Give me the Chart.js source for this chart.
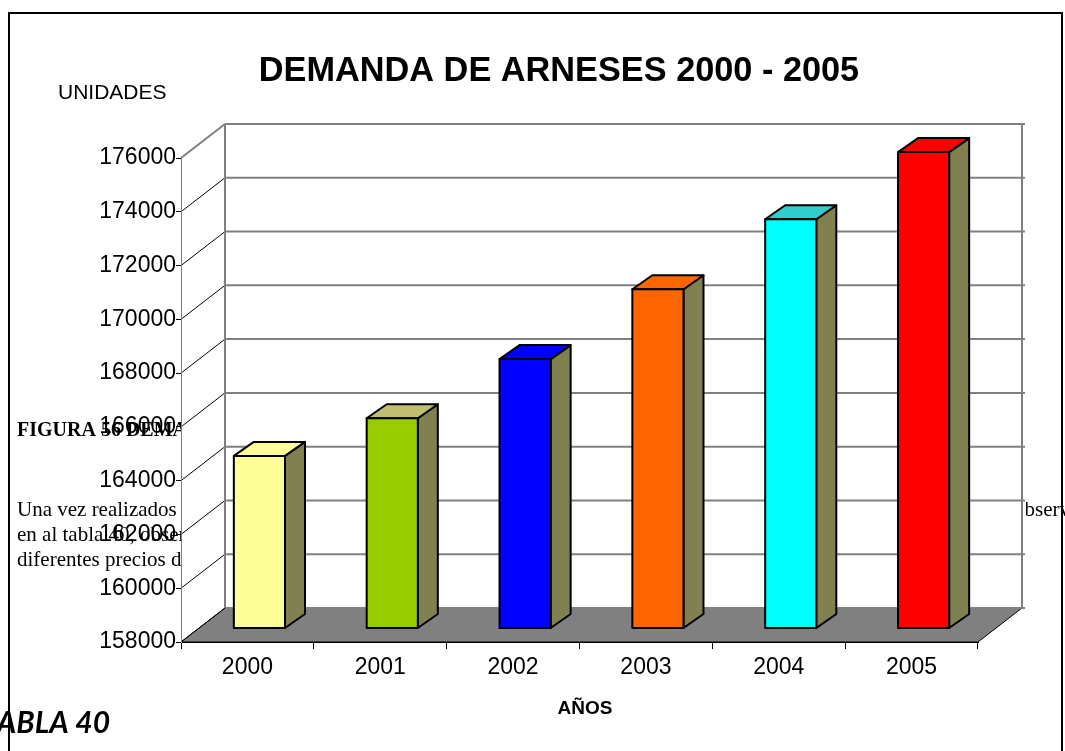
<!DOCTYPE html>
<html>
<head>
<meta charset="utf-8">
<title>Demanda de arneses 2000 - 2005</title>
<script src="https://cdn.jsdelivr.net/npm/chart.js@4.4.1/dist/chart.umd.min.js"></script>
<style>
  html, body { margin: 0; padding: 0; background: #fff; }
  canvas { display: block; }
</style>
</head>
<body>
<canvas id="myChart" width="1065" height="751"></canvas>
<script>
// data
var years = ["2000", "2001", "2002", "2003", "2004", "2005"];
var demand = [164400, 165800, 168000, 170600, 173200, 175700];
var yTicks = [158000, 160000, 162000, 164000, 166000, 168000, 170000, 172000, 174000, 176000];

// styles
var frontColors = ["#FFFF99", "#99CC00", "#0000FF", "#FF6600", "#00FFFF", "#FF0000"];
var topColors = ["#FFFF99", "#C0C070", "#0000FF", "#FF6600", "#33CCCC", "#FF0000"];
var sideColor = "#808050";
var SANS = "'Liberation Sans', Arial, sans-serif";
var SERIF = "'Liberation Serif', 'Times New Roman', serif";

// depth of the whole 3d box and of the bars
var WALL_DX = 44, WALL_DY = -34;
var BAR_DX = 12, BAR_DY = -14;
var DEPTH_DX = 20, DEPTH_DY = -14;

function poly(ctx, pts, fill, stroke, lw) {
    ctx.beginPath();
    ctx.moveTo(pts[0][0], pts[0][1]);
    for (var i = 1; i < pts.length; i++) ctx.lineTo(pts[i][0], pts[i][1]);
    ctx.closePath();
    if (fill) { ctx.fillStyle = fill; ctx.fill(); }
    if (stroke) { ctx.strokeStyle = stroke; ctx.lineWidth = lw || 1; ctx.stroke(); }
}

var box3d = {
    id: "box3d",
    beforeDraw: function (chart) {
        var ctx = chart.ctx, a = chart.chartArea, ys = chart.scales.y;
        ctx.save();
        ctx.fillStyle = "#fff";
        ctx.fillRect(0, 0, chart.width, chart.height);

        // text of the document page that shows round the chart
        ctx.fillStyle = "#000";
        ctx.textBaseline = "alphabetic";
        ctx.textAlign = "left";
        ctx.font = "bold 20px " + SERIF;
        ctx.fillText("FIGURA 56 DEMANDA DE ARNESES", 17, 436);
        ctx.font = "21px " + SERIF;
        ctx.fillText("Una vez realizados los cálculos de la demanda", 17, 516);
        ctx.fillText("observamos", 1014, 516);
        ctx.fillText("en al tabla 40, observamos la demanda", 17, 541);
        ctx.fillText("diferentes precios de los arneses", 17, 566);
        ctx.font = "italic bold 30px Lato, 'Noto Sans', sans-serif";
        ctx.fillText("TABLA 40", -18, 733);

        // plot area is opaque
        ctx.fillStyle = "#fff";
        ctx.fillRect(a.left, a.top + WALL_DY - 2, a.right + WALL_DX + 4 - a.left, a.bottom - a.top - WALL_DY + 4);

        // floor
        poly(ctx, [[a.left, a.bottom], [a.left + WALL_DX, a.bottom + WALL_DY],
                   [a.right + WALL_DX, a.bottom + WALL_DY], [a.right, a.bottom]], "#808080", "#000", 1);

        // walls: diagonals on the left wall, gridlines on the back wall
        yTicks.forEach(function (v, i) {
            var py = ys.getPixelForValue(v);
            var top = i === yTicks.length - 1;
            ctx.beginPath();
            ctx.moveTo(a.left, py);
            ctx.lineTo(a.left + WALL_DX, py + WALL_DY);
            ctx.strokeStyle = top ? "#808080" : "#000";
            ctx.lineWidth = top ? 2 : 1;
            ctx.stroke();
            ctx.beginPath();
            ctx.moveTo(a.left + WALL_DX, py + WALL_DY);
            ctx.lineTo(a.right + WALL_DX + 3, py + WALL_DY);
            ctx.strokeStyle = "#808080";
            ctx.lineWidth = 2;
            ctx.stroke();
        });
        ctx.beginPath();
        ctx.moveTo(a.left + WALL_DX, a.top + WALL_DY);
        ctx.lineTo(a.left + WALL_DX, a.bottom + WALL_DY);
        ctx.moveTo(a.right + WALL_DX, a.top + WALL_DY);
        ctx.lineTo(a.right + WALL_DX, a.bottom + WALL_DY);
        ctx.strokeStyle = "#808080";
        ctx.lineWidth = 2;
        ctx.stroke();
        ctx.restore();
    },
    afterDatasetsDraw: function (chart) {
        var ctx = chart.ctx, a = chart.chartArea;
        var meta = chart.getDatasetMeta(0);
        ctx.save();
        ctx.lineJoin = "round";
        meta.data.forEach(function (el, i) {
            var l = el.x - el.width / 2 + BAR_DX;
            var r = el.x + el.width / 2 + BAR_DX;
            var t = el.y + BAR_DY;
            var b = Math.min(el.base, a.bottom) + BAR_DY;
            poly(ctx, [[r, t], [r + DEPTH_DX, t + DEPTH_DY], [r + DEPTH_DX, b + DEPTH_DY], [r, b]], sideColor, "#000", 2);
            poly(ctx, [[l, t], [l + DEPTH_DX, t + DEPTH_DY], [r + DEPTH_DX, t + DEPTH_DY], [r, t]], topColors[i], "#000", 2);
            poly(ctx, [[l, t], [r, t], [r, b], [l, b]], frontColors[i], "#000", 2);
        });
        ctx.restore();
    },
    afterDraw: function (chart) {
        var ctx = chart.ctx;
        ctx.save();
        ctx.fillStyle = "#000";
        ctx.textAlign = "center";
        ctx.font = "bold 34.3px " + SANS;
        ctx.fillText("DEMANDA DE ARNESES 2000 - 2005", 559, 81);
        ctx.textAlign = "left";
        ctx.font = "21px " + SANS;
        ctx.fillText("UNIDADES", 58, 99);
        ctx.textAlign = "center";
        ctx.font = "bold 19px " + SANS;
        ctx.fillText("AÑOS", 585, 714);
        // frame of the chart object
        ctx.strokeStyle = "#000";
        ctx.lineWidth = 2;
        ctx.beginPath();
        ctx.moveTo(9, 751);
        ctx.lineTo(9, 13);
        ctx.lineTo(1062, 13);
        ctx.lineTo(1062, 751);
        ctx.stroke();
        ctx.restore();
    }
};

new Chart("myChart", {
    type: "bar",
    data: {
        labels: years,
        datasets: [{
            data: demand,
            backgroundColor: "rgba(0,0,0,0)",
            borderWidth: 0,
            barPercentage: 0.385,
            categoryPercentage: 1
        }]
    },
    options: {
        responsive: false,
        animation: false,
        devicePixelRatio: 1,
        layout: { padding: { left: 0, right: 87, top: 158, bottom: 69 } },
        plugins: {
            legend: { display: false },
            tooltip: { enabled: false },
            title: { display: false }
        },
        scales: {
            x: {
                grid: { drawOnChartArea: false, tickLength: 7, color: "#000", lineWidth: 1 },
                border: { display: true, color: "#000" },
                ticks: { color: "#000", padding: 5, font: { family: SANS, size: 23 } },
                afterFit: function (s) { s.height = 40; }
            },
            y: {
                min: 158000,
                max: 176000,
                afterBuildTicks: function (s) { s.ticks = yTicks.map(function (v) { return { value: v }; }); },
                grid: { drawOnChartArea: false, tickLength: 5, color: "#000" },
                border: { display: true, color: "#808080" },
                ticks: {
                    color: "#000", padding: 0, font: { family: SANS, size: 23 },
                    callback: function (v) { return String(v); }
                },
                afterFit: function (s) { s.width = 181; }
            }
        }
    },
    plugins: [box3d]
});
</script>
</body>
</html>
